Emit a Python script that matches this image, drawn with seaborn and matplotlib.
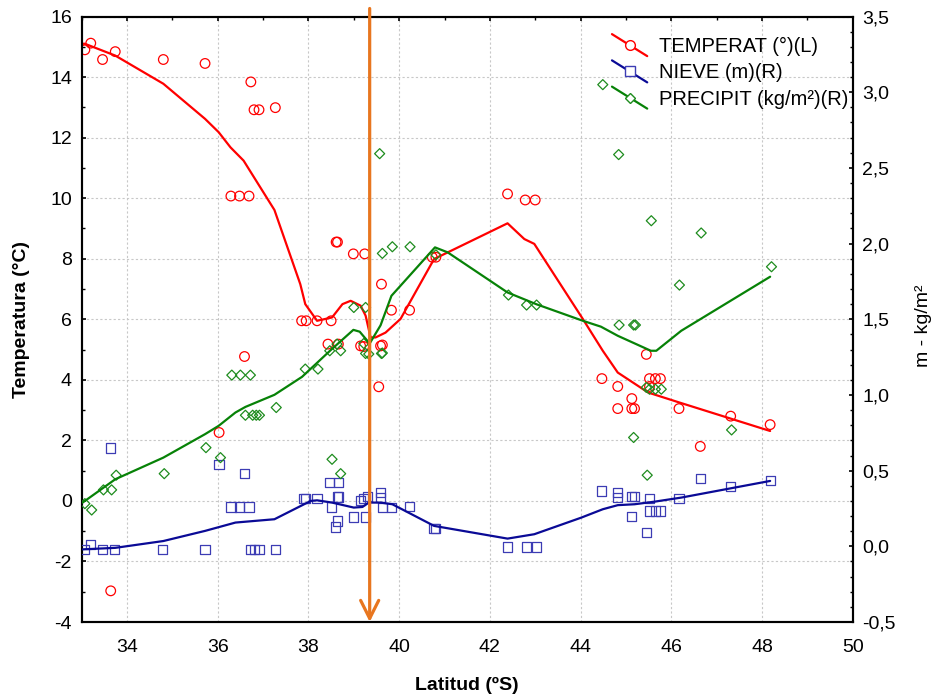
import matplotlib
matplotlib.use('Agg')
import matplotlib.pyplot as plt
import seaborn as sns
import pandas as pd
from matplotlib.ticker import MultipleLocator, FuncFormatter
from matplotlib.lines import Line2D
from matplotlib.legend_handler import HandlerBase

sns.set_theme(style='white')
plt.rcParams['font.family'] = ['Liberation Sans', 'DejaVu Sans']
plt.rcParams['axes.unicode_minus'] = False
plt.rcParams['text.color'] = 'black'
plt.rcParams['axes.labelcolor'] = 'black'
plt.rcParams['xtick.labelcolor'] = 'black'
plt.rcParams['ytick.labelcolor'] = 'black'

# temperatura (eje izquierdo)
temp_lat = [33.07, 33.20, 33.46, 33.74, 33.64, 34.80, 35.72, 36.03, 36.29, 36.48, 36.69,
            36.59, 36.73, 36.80, 36.91, 37.27, 37.85, 37.95, 38.19, 38.50, 38.43, 38.66,
            38.61, 38.64, 38.99, 39.24, 39.15, 39.22, 39.59, 39.63, 39.55, 39.61, 39.83,
            40.23, 40.73, 40.81, 42.39, 42.78, 43.00, 44.47, 44.82, 44.82, 45.13, 45.13,
            45.19, 45.45, 45.52, 45.65, 45.76, 45.52, 46.17, 46.64, 47.31, 48.18]
temp_val = [14.90, 15.12, 14.58, 14.84, -2.97, 14.58, 14.45, 2.26, 10.07, 10.07, 10.07,
            4.77, 13.84, 12.92, 12.92, 12.99, 5.95, 5.95, 5.95, 5.95, 5.18, 5.18,
            8.55, 8.55, 8.16, 8.16, 5.12, 5.10, 5.12, 5.15, 3.77, 7.16, 6.30,
            6.30, 8.05, 8.05, 10.14, 9.94, 9.94, 4.04, 3.78, 3.05, 3.38, 3.05,
            3.05, 4.84, 4.04, 4.04, 4.04, 3.78, 3.05, 1.80, 2.80, 2.52]

# nieve (eje derecho)
nieve_lat = [33.07, 33.20, 33.46, 33.73, 33.64, 34.79, 35.72, 36.03, 36.59, 36.29, 36.48,
             36.69, 36.72, 36.81, 36.91, 37.27, 37.90, 37.94, 38.19, 38.47, 38.67, 38.51,
             38.64, 38.67, 38.64, 38.60, 38.99, 39.15, 39.22, 39.30, 39.25, 39.59, 39.59,
             39.63, 39.83, 40.23, 40.77, 40.81, 42.39, 42.80, 43.02, 44.47, 44.82, 44.82,
             45.13, 45.19, 45.13, 45.45, 45.52, 45.52, 45.65, 45.76, 46.17, 46.64, 47.31, 48.18]
nieve_val = [-0.02, 0.01, -0.02, -0.02, 0.65, -0.02, -0.02, 0.54, 0.48, 0.26, 0.26,
             0.26, -0.02, -0.02, -0.02, -0.02, 0.315, 0.315, 0.315, 0.42, 0.42, 0.26,
             0.326, 0.326, 0.168, 0.128, 0.194, 0.304, 0.315, 0.33, 0.194, 0.355, 0.322,
             0.256, 0.256, 0.262, 0.117, 0.117, -0.004, -0.004, -0.004, 0.366, 0.355, 0.322,
             0.328, 0.328, 0.196, 0.090, 0.315, 0.234, 0.234, 0.234, 0.315, 0.447, 0.397, 0.437]

# precipitacion (eje derecho)
prec_lat = [33.07, 33.22, 33.48, 33.66, 33.76, 34.82, 35.74, 36.06, 36.31, 36.50, 36.72,
            36.61, 36.77, 36.85, 36.92, 37.29, 37.93, 38.21, 38.52, 38.71, 38.47, 38.63,
            38.71, 39.00, 39.26, 39.22, 39.26, 39.33, 39.61, 39.63, 39.57, 39.63, 39.85,
            40.24, 40.81, 42.41, 42.81, 43.03, 44.49, 44.84, 45.56, 44.85, 45.17, 45.21,
            45.45, 45.52, 45.65, 45.78, 45.17, 45.47, 46.18, 46.66, 47.33, 48.21]
prec_val = [0.282, 0.240, 0.373, 0.373, 0.470, 0.480, 0.652, 0.586, 1.131, 1.131, 1.131,
            0.866, 0.866, 0.866, 0.866, 0.917, 1.171, 1.171, 0.575, 0.480, 1.292, 1.336,
            1.292, 1.578, 1.578, 1.340, 1.274, 1.270, 1.274, 1.277, 2.594, 1.935, 1.979,
            1.979, 1.926, 1.660, 1.594, 1.594, 3.050, 2.588, 2.151, 1.462, 1.462, 1.462,
            1.050, 1.038, 1.038, 1.038, 0.719, 0.470, 1.726, 2.070, 0.769, 1.847]

# curvas suavizadas
temp_fit_lat = [33.02, 33.07, 33.74, 34.80, 35.72, 36.02, 36.28, 36.57, 37.25, 37.82, 37.93,
                38.19, 38.52, 38.75, 38.93, 39.15, 39.26, 39.37, 39.48, 39.70, 40.03, 40.77,
                42.39, 42.76, 42.98, 44.05, 44.49, 44.82, 45.49, 46.18, 48.18]
temp_fit_val = [15.10, 15.10, 14.71, 13.78, 12.62, 12.18, 11.68, 11.24, 9.61, 7.16, 6.50,
                5.95, 6.06, 6.50, 6.61, 6.45, 6.12, 5.40, 5.40, 5.56, 6.01, 7.99,
                9.17, 8.65, 8.49, 6.01, 4.96, 4.24, 3.58, 3.25, 2.31]

nieve_fit_lat = [33.02, 33.74, 34.80, 35.72, 36.39, 37.25, 38.05, 38.19, 38.52, 39.00, 39.19,
                 39.33, 39.59, 39.85, 40.77, 42.39, 42.98, 44.01, 44.49, 44.82, 45.19, 45.63,
                 46.22, 48.18]
nieve_fit_val = [-0.02, -0.01, 0.035, 0.102, 0.157, 0.179, 0.300, 0.304, 0.289, 0.256, 0.260,
                 0.289, 0.289, 0.278, 0.135, 0.051, 0.080, 0.189, 0.245, 0.272, 0.278, 0.295,
                 0.322, 0.432]

prec_fit_lat = [33.02, 33.74, 34.80, 35.72, 36.02, 36.39, 36.61, 37.25, 37.86, 38.49, 38.99,
                39.13, 39.35, 39.59, 39.83, 40.79, 41.07, 42.39, 43.02, 44.05, 44.45, 44.82,
                45.55, 45.67, 46.22, 48.18]
prec_fit_val = [0.289, 0.443, 0.586, 0.741, 0.796, 0.884, 0.921, 1.001, 1.120, 1.296, 1.430,
                1.418, 1.340, 1.460, 1.655, 1.975, 1.942, 1.677, 1.600, 1.490, 1.451, 1.391,
                1.292, 1.292, 1.424, 1.781]

limite_lat = 39.35

labels = ['TEMPERAT (°)(L)', 'NIEVE (m)(R)', 'PRECIPIT (kg/m²)(R)']
c_temp, c_nieve_pt, c_nieve_ln, c_prec_pt, c_prec_ln = '#FF0000', '#3C3CB4', '#0A0A96', '#1E8C1E', '#078207'
c_flecha = '#E8761F'


class SlantHandler(HandlerBase):
    # linea inclinada con el marcador en el medio, como en Statistica
    def create_artists(self, legend, orig_handle, xdescent, ydescent, width, height, fontsize, trans):
        x0, x1 = -xdescent, -xdescent + width
        yc = -ydescent + height / 2
        dy = 0.78 * height
        ln = Line2D([x0, x1], [yc + dy, yc - dy], color=orig_handle.get_color(),
                    lw=orig_handle.get_linewidth(), transform=trans)
        mk = Line2D([(x0 + x1) / 2], [yc], marker=orig_handle.get_marker(),
                    ms=orig_handle.get_markersize(), mfc='white',
                    mec=orig_handle.get_markeredgecolor(), mew=1.0, ls='none', transform=trans)
        return [ln, mk]


fig = plt.figure(figsize=(9.4, 7), dpi=100)
ax = fig.add_axes([0.0869, 0.1114, 0.8202, 0.865])
ax2 = ax.twinx()

df_t = pd.DataFrame({'lat': temp_lat, 'val': temp_val})
df_n = pd.DataFrame({'lat': nieve_lat, 'val': nieve_val})
df_p = pd.DataFrame({'lat': prec_lat, 'val': prec_val})

sns.scatterplot(data=df_t, x='lat', y='val', ax=ax, marker='o', s=48, color=c_temp,
                facecolor='none', edgecolor=c_temp, linewidth=0.9, zorder=3)
sns.lineplot(x=temp_fit_lat, y=temp_fit_val, ax=ax, color=c_temp, lw=1.6, estimator=None, zorder=4)

sns.scatterplot(data=df_n, x='lat', y='val', ax=ax2, marker='s', s=44, color=c_nieve_pt,
                facecolor='none', edgecolor=c_nieve_pt, linewidth=0.9, zorder=3)
sns.lineplot(x=nieve_fit_lat, y=nieve_fit_val, ax=ax2, color=c_nieve_ln, lw=1.6, estimator=None, zorder=4)

sns.scatterplot(data=df_p, x='lat', y='val', ax=ax2, marker='D', s=26, color=c_prec_pt,
                facecolor='none', edgecolor=c_prec_pt, linewidth=0.9, zorder=3)
sns.lineplot(x=prec_fit_lat, y=prec_fit_val, ax=ax2, color=c_prec_ln, lw=1.6, estimator=None, zorder=4)

ax.set_xlim(33, 50)
ax.set_ylim(-4, 16)
ax2.set_ylim(-0.5, 3.5)

ax.xaxis.set_major_locator(MultipleLocator(2))
ax.xaxis.set_minor_locator(MultipleLocator(1))
ax.yaxis.set_major_locator(MultipleLocator(2))
ax.yaxis.set_minor_locator(MultipleLocator(1))
ax2.yaxis.set_major_locator(MultipleLocator(0.5))
ax2.yaxis.set_minor_locator(MultipleLocator(0.1))
ax2.yaxis.set_major_formatter(FuncFormatter(lambda v, p: f'{v:.1f}'.replace('.', ',')))

ax.grid(True, which='major', color='#c8c8c8', linestyle=(0, (2, 2)), linewidth=0.8)
ax.set_axisbelow(True)

ax.tick_params(axis='both', which='both', direction='in', labelsize=14, color='black',
               labelcolor='black', top=True, right=False, pad=7)
ax.tick_params(axis='x', which='both', pad=12)
ax.tick_params(which='major', length=3, width=1.2)
ax.tick_params(which='minor', length=2, width=1.0)
ax2.tick_params(axis='y', which='both', direction='in', labelsize=14, color='black',
                labelcolor='black', pad=7)
ax2.tick_params(which='major', length=3, width=1.2)
ax2.tick_params(which='minor', length=2, width=1.0)

for a in (ax, ax2):
    for sp in a.spines.values():
        sp.set_color('black')
        sp.set_linewidth(1.5)

ax.set_xlabel('Latitud (ºS)', fontsize=14, fontweight='bold', color='black')
ax.set_ylabel('Temperatura (°C)', fontsize=14, fontweight='bold', color='black')
ax2.set_ylabel('m - kg/m²', fontsize=14, color='black')
ax.xaxis.set_label_coords(0.5, -0.091)
ax.yaxis.set_label_coords(-0.067, 0.5)
ax2.yaxis.set_label_coords(1.081, 0.49)

# flecha en el limite
ax2.annotate('', xy=(limite_lat, -0.5), xytext=(limite_lat, 3.553),
             arrowprops=dict(arrowstyle='->,head_length=1.3,head_width=0.65', color=c_flecha,
                             lw=2.3, shrinkA=0, shrinkB=0, mutation_scale=10),
             annotation_clip=False, zorder=6)

handles = [Line2D([], [], color=c_temp, lw=1.6, marker='o', ms=7, mec=c_temp),
           Line2D([], [], color=c_nieve_ln, lw=1.6, marker='s', ms=7, mec=c_nieve_pt),
           Line2D([], [], color=c_prec_ln, lw=1.6, marker='D', ms=5, mec=c_prec_pt)]
leg = ax2.legend(handles, labels, loc='upper left', bbox_to_anchor=(0.6878, 0.966), frameon=False,
                 fontsize=14.5, handlelength=1.75, handletextpad=0.6, labelspacing=0.36, borderpad=0,
                 borderaxespad=0, handler_map={Line2D: SlantHandler()})
for t in leg.get_texts():
    t.set_color('black')

fig.savefig('out.png', dpi=100)
